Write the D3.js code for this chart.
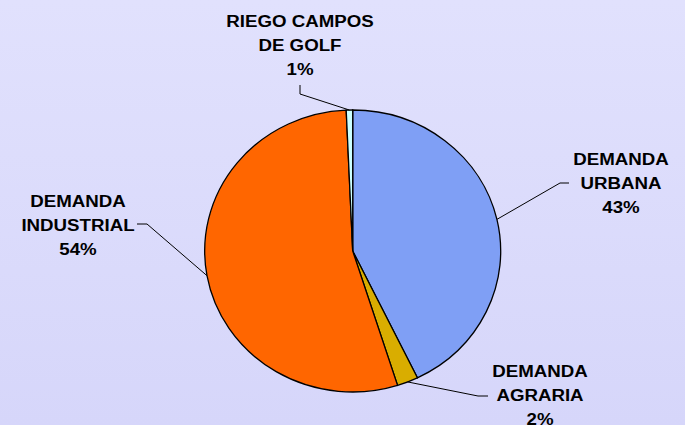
<!DOCTYPE html>
<html>
<head>
<meta charset="utf-8">
<script src="https://cdn.jsdelivr.net/npm/d3@7"></script>
<style>
  html, body { margin: 0; padding: 0; }
  body { width: 685px; height: 425px; overflow: hidden; }
  text { font-family: 'Liberation Sans', Arial, sans-serif; font-weight: bold; fill: #000; }
</style>
</head>
<body>
<svg id="pie"></svg>
<script>
// jshint esversion : 6
const categories = ['DEMANDA URBANA', 'DEMANDA AGRARIA', 'DEMANDA INDUSTRIAL', 'RIEGO CAMPOS DE GOLF'];
const labelLines = [['DEMANDA', 'URBANA'], ['DEMANDA', 'AGRARIA'], ['DEMANDA', 'INDUSTRIAL'], ['RIEGO CAMPOS', 'DE GOLF']];
const values = [42.8, 2.3, 54.2, 0.7];
const colors = ['#7f9ff5', '#d9ad00', '#ff6600', '#ccffff'];

const width = 685,
  height = 425,
  cx = 352.7,
  cy = 251,
  rx = 148,
  ry = 141;

let svg = d3.select('#pie').attr('width', width).attr('height', height);

let grad = svg.append('defs')
  .append('linearGradient')
  .attr('id', 'bg')
  .attr('x1', 0).attr('y1', 0)
  .attr('x2', 0).attr('y2', 1);
grad.append('stop').attr('offset', '0%').attr('stop-color', '#e1e1fd');
grad.append('stop').attr('offset', '100%').attr('stop-color', '#d6d6fa');

svg.append('rect')
  .attr('width', width)
  .attr('height', height)
  .attr('fill', 'url(#bg)');

let data = categories.map((c, i) => ({ name: c, value: values[i], lines: labelLines[i], color: colors[i] }));

let pie = d3.pie().sort(null).value(d => d.value);
let arcs = pie(data);
let arc = d3.arc().innerRadius(0).outerRadius(rx);

// pie is drawn as a circle and squashed a bit vertically
svg.append('g')
  .attr('transform', 'translate(' + cx + ',' + cy + ') scale(1,' + ry / rx + ')')
  .selectAll('path')
  .data(arcs)
  .enter()
  .append('path')
  .attr('d', arc)
  .attr('fill', d => d.data.color)
  .attr('stroke', '#000')
  .attr('stroke-width', 1.3)
  .attr('vector-effect', 'non-scaling-stroke');

// label layout: elbow, end of leader and text centre for each slice
const layout = [
  { elbow: [560, 183], end: [569, 183], tx: 621, ty: 165 },
  { elbow: [478, 396], end: [488, 396], tx: 540, ty: 377 },
  { elbow: [147, 224], end: [137, 224], tx: 78, ty: 207 },
  { elbow: [300, 94], end: [300, 85], tx: 300, ty: 27 }
];

function edgePoint(d) {
  let a = (d.startAngle + d.endAngle) / 2;
  return [cx + rx * Math.sin(a), cy - ry * Math.cos(a)];
}

svg.append('g')
  .selectAll('polyline')
  .data(arcs)
  .enter()
  .append('polyline')
  .attr('points', (d, i) => [edgePoint(d), layout[i].elbow, layout[i].end].map(p => p.join(',')).join(' '))
  .attr('fill', 'none')
  .attr('stroke', '#000')
  .attr('stroke-width', 1);

let labels = svg.append('g')
  .selectAll('g')
  .data(arcs)
  .enter()
  .append('g')
  .attr('transform', (d, i) => 'translate(' + layout[i].tx + ',' + layout[i].ty + ') scale(1.1,1)');

labels.each(function (d) {
  let g = d3.select(this);
  let rows = d.data.lines.concat([Math.round(d.data.value) + '%']);
  rows.forEach((t, j) => {
    g.append('text')
      .attr('x', 0)
      .attr('y', j * 24)
      .attr('text-anchor', 'middle')
      .style('font-size', '17px')
      .text(t);
  });
});
</script>
</body>
</html>
